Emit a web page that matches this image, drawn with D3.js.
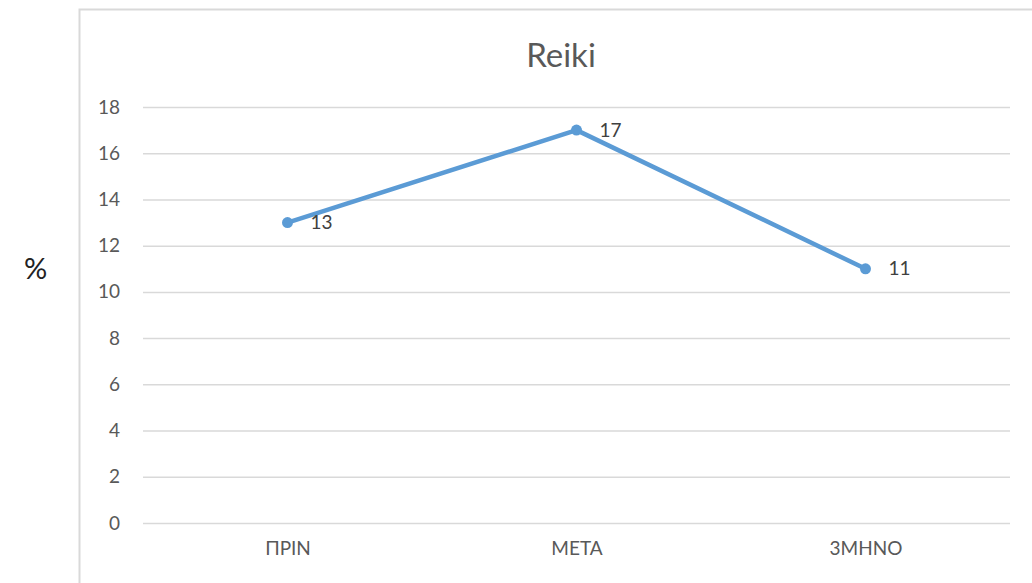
<!DOCTYPE html>
<html>
<head>
<meta charset="utf-8">
<script src="https://cdn.jsdelivr.net/npm/d3@7"></script>
<style>
  body { margin: 0; background: #fff; }
  svg { display: block; font-family: Lato, "Open Sans", sans-serif; }
</style>
</head>
<body>
<svg id="chart" width="1032" height="583"></svg>
<script>
// chart data
var categories = ["ΠΡΙΝ", "ΜΕΤΑ", "3ΜΗΝΟ"],
    values = [13, 17, 11],
    yTicks = [0, 2, 4, 6, 8, 10, 12, 14, 16, 18];

var svg = d3.select("#chart");

var plotLeft = 143, plotRight = 1010, plotTop = 107, plotBottom = 523;

// chart frame (runs off the right and bottom edges)
svg.append("rect")
  .attr("x", 79.5).attr("y", 9.5)
  .attr("width", 1000).attr("height", 600)
  .attr("fill", "none")
  .attr("stroke", "#d9d9d9")
  .attr("stroke-width", 2);

var x = d3.scalePoint().domain(categories).range([plotLeft, plotRight]).padding(0.5);
var y = d3.scaleLinear().domain([0, 18]).range([plotBottom, plotTop]);

// gridlines
svg.append("g")
  .selectAll("line")
  .data(yTicks)
  .join("line")
  .attr("x1", plotLeft).attr("x2", plotRight)
  .attr("y1", function(d) { return y(d) + 0.5; })
  .attr("y2", function(d) { return y(d) + 0.5; })
  .attr("stroke", "#d9d9d9")
  .attr("stroke-width", 1.5);

// y axis labels
var yAxis = svg.append("g")
  .attr("transform", "translate(" + (plotLeft - 23) + ",0)")
  .call(d3.axisLeft(y).tickValues(yTicks).tickSize(0).tickPadding(0));
yAxis.select(".domain").remove();
yAxis.selectAll("text")
  .attr("font-size", 19)
  .attr("font-family", "Lato, 'Open Sans', sans-serif")
  .attr("fill", "#595959");

// x axis labels
var xAxis = svg.append("g")
  .attr("transform", "translate(0," + (plotBottom + 18) + ")")
  .call(d3.axisBottom(x).tickSize(0).tickPadding(0));
xAxis.select(".domain").remove();
xAxis.selectAll("text")
  .attr("font-size", 19)
  .attr("font-family", "Lato, 'Open Sans', sans-serif")
  .attr("fill", "#595959");

// title
svg.append("text")
  .attr("x", 561).attr("y", 67)
  .attr("text-anchor", "middle")
  .attr("font-size", 33)
  .attr("fill", "#595959")
  .text("Reiki");

// y axis title
svg.append("text")
  .attr("x", 24).attr("y", 279)
  .attr("font-size", 29)
  .attr("fill", "#222")
  .text("%");

var pts = categories.map(function(c, i) { return { c: c, v: values[i] }; });

var line = d3.line()
  .x(function(d) { return x(d.c); })
  .y(function(d) { return y(d.v); });

svg.append("path")
  .datum(pts)
  .attr("d", line)
  .attr("fill", "none")
  .attr("stroke", "#5b9bd5")
  .attr("stroke-width", 4.5)
  .attr("stroke-linejoin", "round");

svg.append("g")
  .selectAll("circle")
  .data(pts)
  .join("circle")
  .attr("cx", function(d) { return x(d.c); })
  .attr("cy", function(d) { return y(d.v); })
  .attr("r", 5.5)
  .attr("fill", "#5b9bd5");

// data labels
svg.append("g")
  .selectAll("text")
  .data(pts)
  .join("text")
  .attr("x", function(d) { return x(d.c) + 23; })
  .attr("y", function(d) { return y(d.v); })
  .attr("dy", "0.35em")
  .attr("font-size", 19)
  .attr("fill", "#404040")
  .text(function(d) { return d.v; });
</script>
</body>
</html>
